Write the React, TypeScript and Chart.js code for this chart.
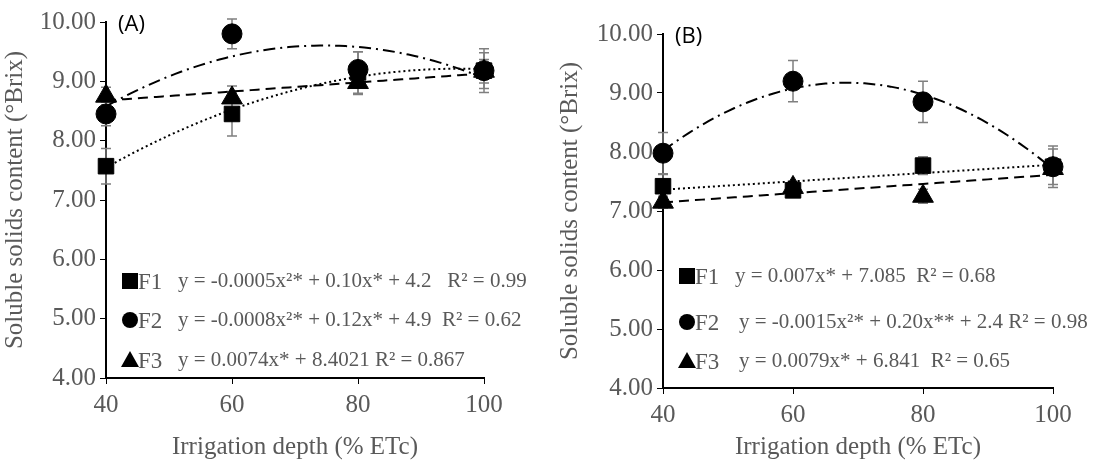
import { useEffect, useRef } from 'react'
import { Chart, registerables } from 'chart.js'

Chart.register(...registerables)

const depths = [40, 60, 80, 100]
const yTicks = [4, 5, 6, 7, 8, 9, 10]

// panel A
const aF1 = [7.57, 8.45, 9.15, 9.18]
const aF2 = [8.45, 9.8, 9.2, 9.18]
const aF3 = [8.75, 8.72, 8.98, 9.17]
const aF1Err = [0.3, 0.37, 0.35, 0.37]
const aF2Err = [0.2, 0.25, 0.3, 0.3]
const aF3Err = [0.15, 0.2, 0.2, 0.2]
const aLegend = [
  'y = -0.0005x²* + 0.10x* + 4.2   R² = 0.99',
  'y = -0.0008x²* + 0.12x* + 4.9  R² = 0.62',
  'y = 0.0074x* + 8.4021 R² = 0.867',
]

// panel B
const bF1 = [7.42, 7.35, 7.77, 7.75]
const bF2 = [7.98, 9.2, 8.85, 7.75]
const bF3 = [7.15, 7.4, 7.25, 7.72]
const bF1Err = [0.2, 0.1, 0.15, 0.35]
const bF2Err = [0.35, 0.35, 0.35, 0.3]
const bF3Err = [0.1, 0.1, 0.12, 0.1]
const bLegend = [
  'y = 0.007x* + 7.085  R² = 0.68',
  'y = -0.0015x²* + 0.20x** + 2.4 R² = 0.98',
  'y = 0.0079x* + 6.841  R² = 0.65',
]

// least squares polynomial fit of given degree
function fit(xs: number[], ys: number[], deg: number) {
  const n = deg + 1
  const A: number[][] = Array.from({ length: n }, () => new Array(n + 1).fill(0))
  xs.forEach((x, k) => {
    for (let i = 0; i < n; i++) {
      for (let j = 0; j < n; j++) A[i][j] += Math.pow(x, i + j)
      A[i][n] += ys[k] * Math.pow(x, i)
    }
  })
  for (let i = 0; i < n; i++) {
    for (let r = i + 1; r < n; r++) {
      const f = A[r][i] / A[i][i]
      for (let c = i; c <= n; c++) A[r][c] -= f * A[i][c]
    }
  }
  const c = new Array(n).fill(0)
  for (let i = n - 1; i >= 0; i--) {
    let s = A[i][n]
    for (let j = i + 1; j < n; j++) s -= A[i][j] * c[j]
    c[i] = s / A[i][i]
  }
  const pts = []
  for (let x = 40; x <= 100; x += 1) {
    pts.push({ x, y: c.reduce((acc, v, i) => acc + v * Math.pow(x, i), 0) })
  }
  return pts
}

const grey = '#595959'
const serif = "'Liberation Serif', serif"

interface PanelProps {
  label: string
  f1: number[]; f2: number[]; f3: number[]
  e1: number[]; e2: number[]; e3: number[]
  f1deg: number
  legend: string[]
  legendY: number[]
  eqX: number[]
  left: number; right: number; top: number; bottom: number
}

function Panel(p: PanelProps) {
  const ref = useRef<HTMLCanvasElement>(null)
  useEffect(() => {
    if (!ref.current) return
    const pts = (ys: number[]) => depths.map((x, i) => ({ x, y: ys[i] }))
    const series = [
      { ys: p.f2, err: p.e2, style: 'circle', r: 10 },
      { ys: p.f1, err: p.e1, style: 'rect', r: 11 },
      { ys: p.f3, err: p.e3, style: 'triangle', r: 12 },
    ]
    const errPlugin = {
      id: 'err',
      beforeDatasetsDraw(chart: any) {
        const c = chart.ctx
        const { x, y } = chart.scales
        c.save()
        c.strokeStyle = '#7f7f7f'
        c.lineWidth = 1.5
        series.forEach(s => {
          s.ys.forEach((v, i) => {
            const px = x.getPixelForValue(depths[i])
            const y1 = y.getPixelForValue(v + s.err[i])
            const y2 = y.getPixelForValue(v - s.err[i])
            c.beginPath()
            c.moveTo(px, y1); c.lineTo(px, y2)
            c.moveTo(px - 5, y1); c.lineTo(px + 5, y1)
            c.moveTo(px - 5, y2); c.lineTo(px + 5, y2)
            c.stroke()
          })
        })
        c.restore()
      },
      afterDraw(chart: any) {
        const c = chart.ctx
        const { left, top } = chart.chartArea
        c.save()
        c.fillStyle = '#000'
        c.font = "22px 'Open Sans', sans-serif"
        c.textBaseline = 'top'
        c.fillText(p.label, left + 12, top - 8)
        c.textBaseline = 'middle'
        p.legend.forEach((t, i) => {
          const yy = p.legendY[i]
          const mx = left + 24
          c.fillStyle = '#000'
          c.beginPath()
          if (i === 0) c.rect(mx - 8, yy - 8, 16, 16)
          else if (i === 1) c.arc(mx, yy, 8, 0, Math.PI * 2)
          else { c.moveTo(mx, yy - 9); c.lineTo(mx + 9, yy + 7); c.lineTo(mx - 9, yy + 7); c.closePath() }
          c.fill()
          c.fillStyle = grey
          c.font = `23px ${serif}`
          c.fillText('F' + (i + 1), mx + 8, yy + 2)
          c.font = `21px ${serif}`
          c.fillText(t, left + p.eqX[i], yy)
        })
        c.restore()
      },
    }
    const chart = new Chart(ref.current, {
      type: 'scatter',
      plugins: [errPlugin],
      data: {
        datasets: [
          { data: fit(depths, p.f1, p.f1deg), showLine: true, pointRadius: 0, borderColor: '#000', borderWidth: 2, borderDash: [2, 3] },
          { data: fit(depths, p.f2, 2), showLine: true, pointRadius: 0, borderColor: '#000', borderWidth: 2, borderDash: [12, 5, 2, 5] },
          { data: fit(depths, p.f3, 1), showLine: true, pointRadius: 0, borderColor: '#000', borderWidth: 2, borderDash: [10, 6] },
          ...series.map(s => ({
            data: pts(s.ys), showLine: false, pointStyle: s.style as any, pointRadius: s.r,
            backgroundColor: '#000', borderColor: '#000', clip: false as any,
          })),
        ],
      },
      options: {
        animation: false,
        responsive: false,
        layout: { padding: { top: p.top, right: p.right, left: 0, bottom: 0 } },
        plugins: { legend: { display: false }, tooltip: { enabled: false } },
        scales: {
          x: {
            type: 'linear', min: 40, max: 100,
            afterBuildTicks: (s: any) => { s.ticks = depths.map(v => ({ value: v })) },
            afterFit: (s: any) => { s.height = p.bottom },
            grid: { drawOnChartArea: false, color: '#000', tickLength: 6 },
            border: { color: '#000', width: 2 },
            ticks: { color: grey, font: { family: serif, size: 25 }, padding: 6 },
            title: { display: true, text: 'Irrigation depth (% ETc)', color: grey, font: { family: serif, size: 25 }, padding: { top: 4 } },
          },
          y: {
            min: 4, max: 10,
            afterBuildTicks: (s: any) => { s.ticks = yTicks.map(v => ({ value: v })) },
            afterFit: (s: any) => { s.width = p.left },
            grid: { drawOnChartArea: false, color: '#000', tickLength: 6 },
            border: { color: '#000', width: 2 },
            ticks: { color: grey, font: { family: serif, size: 25 }, padding: 4, callback: (v: any) => Number(v).toFixed(2) },
            title: { display: true, text: 'Soluble solids content (°Brix)', color: grey, font: { family: serif, size: 25 }, padding: 0 },
          },
        },
      },
    })
    return () => chart.destroy()
  }, [])
  return <canvas ref={ref} width={p.label === '(A)' ? 555 : 554} height={466} style={{ display: 'block' }} />
}

export default function App() {
  useEffect(() => { document.body.style.margin = '0' }, [])
  return (
    <div style={{ display: 'flex', width: 1109, height: 466, background: '#fff' }}>
      <Panel label="(A)" f1={aF1} f2={aF2} f3={aF3} e1={aF1Err} e2={aF2Err} e3={aF3Err} f1deg={2}
        legend={aLegend} legendY={[281, 320, 360]} eqX={[72, 72, 72]}
        left={106} right={71} top={22} bottom={88} />
      <Panel label="(B)" f1={bF1} f2={bF2} f3={bF3} e1={bF1Err} e2={bF2Err} e3={bF3Err} f1deg={1}
        legend={bLegend} legendY={[276, 322, 361]} eqX={[72, 76, 76]}
        left={108} right={56} top={34} bottom={78} />
    </div>
  )
}
